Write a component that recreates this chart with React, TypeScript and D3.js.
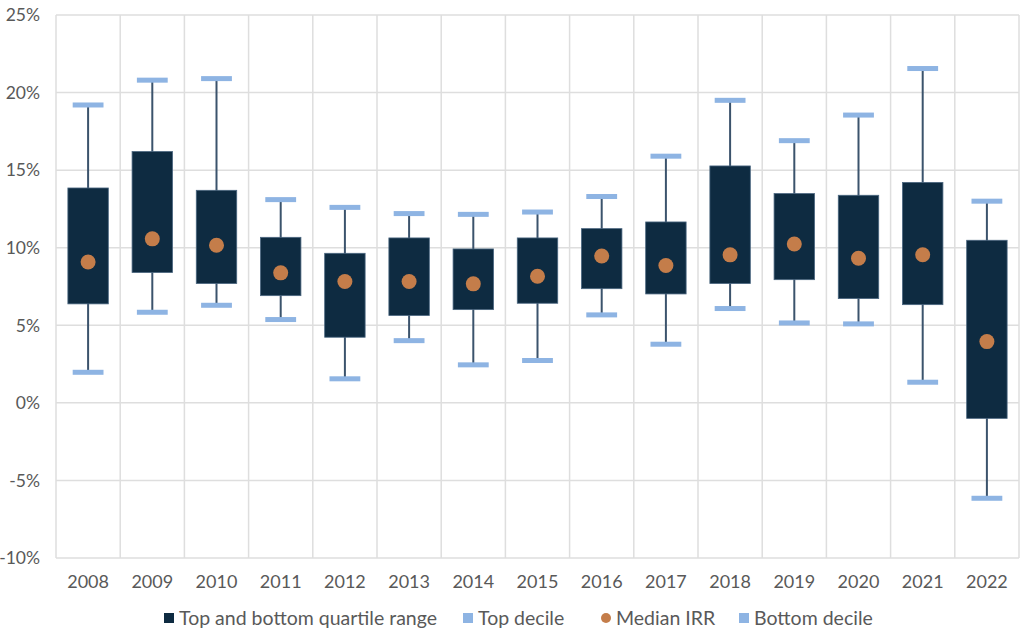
import React, { useEffect, useRef } from 'react';
import * as d3 from 'd3';

const years = ['2008', '2009', '2010', '2011', '2012', '2013', '2014', '2015', '2016', '2017', '2018', '2019', '2020', '2021', '2022'];
const topDecile = [19.2, 20.8, 20.9, 13.1, 12.6, 12.2, 12.15, 12.3, 13.3, 15.9, 19.5, 16.9, 18.55, 21.55, 13.0];
const upperQuartile = [13.85, 16.2, 13.7, 10.67, 9.64, 10.63, 9.92, 10.63, 11.23, 11.66, 15.27, 13.49, 13.38, 14.21, 10.48];
const lowerQuartile = [6.38, 8.4, 7.69, 6.91, 4.23, 5.63, 6.01, 6.42, 7.36, 7.02, 7.69, 7.94, 6.72, 6.33, -1.0];
const medianIRR = [9.08, 10.57, 10.16, 8.38, 7.82, 7.82, 7.67, 8.16, 9.47, 8.85, 9.54, 10.24, 9.32, 9.55, 3.95];
const bottomDecile = [1.97, 5.84, 6.29, 5.37, 1.55, 4.01, 2.45, 2.73, 5.67, 3.78, 6.08, 5.15, 5.09, 1.33, -6.15];
const yTicks = [-10, -5, 0, 5, 10, 15, 20, 25];

const W = 1024;
const H = 634;
const FONT = 'Lato, "Open Sans", sans-serif';
const TEXT = '#595959';
const BOX = '#0e2b41';
const CAP = '#8eb4e3';
const DOT = '#c47d4a';

export default function App() {
  const svgRef = useRef<SVGSVGElement>(null);

  useEffect(() => {
    if (!svgRef.current) return;
    const svg = d3.select(svgRef.current);
    svg.selectAll('*').remove();

    const x = d3.scaleBand<string>().domain(years).range([56, 1019]).padding(0);
    const y = d3.scaleLinear().domain([-10, 25]).range([558, 15]);
    const bw = x.bandwidth();

    const grid = svg.append('g');
    grid.selectAll('line.h')
      .data(yTicks)
      .join('line')
      .attr('x1', 56).attr('x2', 1019)
      .attr('y1', d => y(d)).attr('y2', d => y(d))
      .attr('stroke', '#dedede').attr('stroke-width', 1.5);
    grid.selectAll('line.v')
      .data([...years, 'end'])
      .join('line')
      .attr('x1', (d, i) => 56 + i * bw).attr('x2', (d, i) => 56 + i * bw)
      .attr('y1', y(25)).attr('y2', y(-10))
      .attr('stroke', '#dedede').attr('stroke-width', 1.5);

    svg.append('g').selectAll('text')
      .data(yTicks)
      .join('text')
      .attr('x', 40).attr('y', d => y(d))
      .attr('dy', '0.36em')
      .attr('text-anchor', 'end')
      .style('font-family', FONT).style('font-size', '17.5px').style('fill', TEXT)
      .text(d => `${d}%`);

    svg.append('g').selectAll('text')
      .data(years)
      .join('text')
      .attr('x', d => x(d)! + bw / 2).attr('y', 588)
      .attr('text-anchor', 'middle')
      .style('font-family', FONT).style('font-size', '18px').style('fill', TEXT)
      .text(d => d);

    const g = svg.append('g').selectAll('g')
      .data(years)
      .join('g')
      .attr('transform', d => `translate(${x(d)! + bw / 2},0)`);

    const boxW = bw * 0.63;
    const capW = bw * 0.48;

    g.append('line')
      .attr('x1', 0).attr('x2', 0)
      .attr('y1', (d, i) => y(topDecile[i])).attr('y2', (d, i) => y(bottomDecile[i]))
      .attr('stroke', '#3b536c').attr('stroke-width', 2);

    g.append('rect')
      .attr('x', -boxW / 2).attr('width', boxW)
      .attr('y', (d, i) => y(upperQuartile[i]))
      .attr('height', (d, i) => y(lowerQuartile[i]) - y(upperQuartile[i]))
      .attr('fill', BOX).attr('stroke', '#4b6780').attr('stroke-width', 0.8);

    g.append('rect')
      .attr('x', -capW / 2).attr('width', capW)
      .attr('y', (d, i) => y(topDecile[i]) - 2.5).attr('height', 5)
      .attr('fill', CAP);

    g.append('rect')
      .attr('x', -capW / 2).attr('width', capW)
      .attr('y', (d, i) => y(bottomDecile[i]) - 2.5).attr('height', 5)
      .attr('fill', CAP);

    g.append('circle')
      .attr('cx', 0).attr('cy', (d, i) => y(medianIRR[i]))
      .attr('r', 7.5).attr('fill', DOT);

    const legend = [
      { label: 'Top and bottom quartile range', color: BOX, shape: 'square', x: 164 },
      { label: 'Top decile', color: CAP, shape: 'square', x: 463 },
      { label: 'Median IRR', color: DOT, shape: 'circle', x: 601 },
      { label: 'Bottom decile', color: CAP, shape: 'square', x: 739 },
    ];
    const lg = svg.append('g').selectAll('g')
      .data(legend)
      .join('g')
      .attr('transform', d => `translate(${d.x},618)`);
    lg.filter(d => d.shape === 'square').append('rect')
      .attr('x', 0).attr('y', -5).attr('width', 10).attr('height', 10)
      .attr('fill', d => d.color);
    lg.filter(d => d.shape === 'circle').append('circle')
      .attr('cx', 5).attr('cy', 0).attr('r', 5)
      .attr('fill', d => d.color);
    lg.append('text')
      .attr('x', 15).attr('y', 0).attr('dy', '0.36em')
      .style('font-family', FONT).style('font-size', '19.5px').style('fill', TEXT)
      .text(d => d.label);
  }, []);

  return (
    <svg
      ref={svgRef}
      width={W}
      height={H}
      style={{ position: 'absolute', left: 0, top: 0, background: '#fff' }}
    />
  );
}
